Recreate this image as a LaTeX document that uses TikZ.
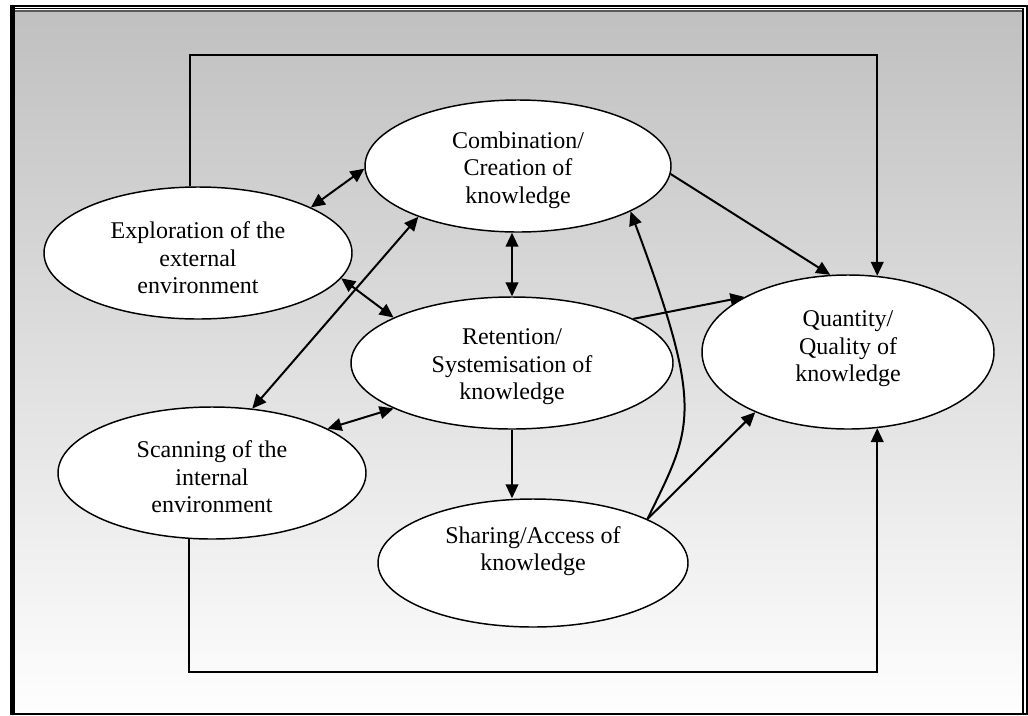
\documentclass[tikz,border=0pt]{standalone}
\usepackage{fontspec}
\setmainfont{Liberation Serif}
\usetikzlibrary{arrows.meta,shapes.geometric,calc}
\definecolor{bgtop}{RGB}{192,192,192}
\definecolor{bgbot}{RGB}{254,254,254}
\tikzset{
  ell/.style={ellipse, draw, fill=white, line width=1.1pt, inner sep=0pt},
  lbl/.style={align=center, font=\fontsize{18}{20.7}\selectfont, inner sep=0pt},
  tip/.tip={Triangle[length=10.5pt,width=9.5pt]},
  conn/.style={line width=1.5pt, -tip},
  dconn/.style={line width=1.5pt, tip-tip},
}
\begin{document}
\begin{tikzpicture}[x=0.75pt,y=-0.75pt]
\useasboundingbox (0,0) rectangle (1028,715);
% background and frame
\shade[top color=bgtop, bottom color=bgbot] (15,10) rectangle (1022,713);
\fill (10,5) rectangle (15,715);
\draw[line width=1.3pt] (10,5.8) -- (1028,5.8);
\draw[line width=0.8pt] (15,8.8) -- (1024,8.8);
\draw[gray!70!black, line width=1.1pt] (15,10.8) -- (1021.5,10.8);
\draw[line width=1.1pt] (1023.2,8) -- (1023.2,715);
\draw[line width=1.5pt] (1027,5) -- (1027,715);
\draw[line width=1.3pt] (10,714) -- (1028,714);

% ellipses
\node[ell, minimum width=231pt, minimum height=99pt] (expl) at (198,253) {};
\node[ell, minimum width=229.5pt, minimum height=99pt] (comb) at (518,166) {};
\node[ell, minimum width=241.5pt, minimum height=99pt] (ret) at (512,363) {};
\node[ell, minimum width=219pt, minimum height=115.5pt] (qual) at (848,352) {};
\node[ell, minimum width=231pt, minimum height=99pt] (scan) at (212,473) {};
\node[ell, minimum width=232.5pt, minimum height=96pt] (share) at (533,563) {};

% texts
\node[lbl] (expl-t) at (198,258) {Exploration of the\\external\\environment};
\node[lbl] (comb-t) at (518,170) {Combination/\\Creation of\\knowledge};
\node[lbl] (ret-t) at (512,367) {Retention/\\Systemisation of\\knowledge};
\node[lbl] (qual-t) at (848,349) {Quantity/\\Quality of\\knowledge};
\node[lbl] (scan-t) at (212,477) {Scanning of the\\internal\\environment};
\node[lbl] (share-t) at (533,551) {Sharing/Access of\\knowledge};

% connectors
\draw[dconn] (expl.22) -- (comb.181);
\draw[dconn] (expl.-10) -- (ret.159);
\draw[dconn] (scan.58) -- (comb.207);
\draw[dconn] (scan.21) -- (ret.201);
\draw[dconn] (ret.north) -- (ret.north |- comb.south);
\draw[conn] (comb.-3) -- (qual.103);
\draw[conn] (ret.20) -- (qual.152);
\draw[conn] (ret.south) -- (ret.south |- share.north);
\draw[conn] (share.21) -- (qual.213);
\draw[conn] (share.21) .. controls +(45,-92.5) and +(75,201) .. (comb.-22);
\coordinate (topline) at (0,55);
\coordinate (botline) at (0,672);
\draw[conn] (expl.97) |- (topline -| qual.69) -- (qual.69);
\draw[conn] (scan.-109) |- (botline -| qual.-69) -- (qual.-69);
\end{tikzpicture}
\end{document}
